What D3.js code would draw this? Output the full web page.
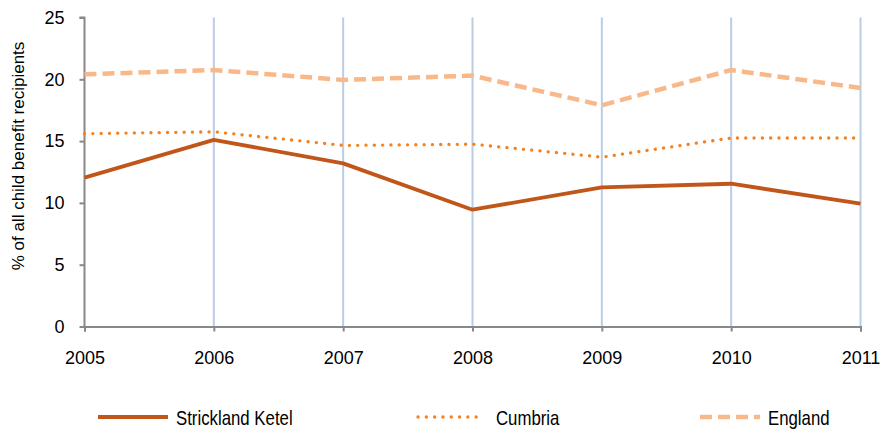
<!DOCTYPE html>
<html><head><meta charset="utf-8">
<script src="https://cdn.jsdelivr.net/npm/d3@7"></script>
<style>body{margin:0;background:#fff}svg{display:block;font-family:"Liberation Sans",Arial,sans-serif}</style>
</head><body><svg id="c" width="885" height="429"></svg>
<script>
const years = ["2005","2006","2007","2008","2009","2010","2011"];
const strickland = [12.05, 15.1, 13.2, 9.45, 11.25, 11.55, 9.95];
const cumbria = [15.6, 15.75, 14.65, 14.75, 13.7, 15.25, 15.25];
const england = [20.4, 20.75, 19.95, 20.3, 17.9, 20.75, 19.3];
const yTicks = [0, 5, 10, 15, 20, 25];
const seriesNames = ["Strickland Ketel", "Cumbria", "England"];

const svg = d3.select("#c");
const x = d3.scalePoint().domain(years).range([84.5, 860.5]);
const y = d3.scaleLinear().domain([0, 25]).range([326.5, 17.5]);

// vertical gridlines
svg.append("g").selectAll("line").data(years.slice(1)).join("line")
  .attr("x1", d => x(d)).attr("x2", d => x(d))
  .attr("y1", y(25)).attr("y2", y(0))
  .attr("stroke", "#b9cde5").attr("stroke-width", 2);

// axes
const ya = svg.append("g").attr("transform", `translate(${x("2005")},0)`)
  .call(d3.axisLeft(y).tickValues(yTicks).tickSize(5).tickPadding(15));
const xa = svg.append("g").attr("transform", `translate(0,${y(0)})`)
  .call(d3.axisBottom(x).tickSize(5).tickPadding(20));
[ya, xa].forEach(a => {
  a.select(".domain").attr("stroke", "#888").attr("stroke-width", 2);
  a.selectAll(".tick line").attr("stroke", "#888").attr("stroke-width", 2);
  a.selectAll("text").attr("fill", "#000").style("font-size", "18px")
   .style("font-family", '"Liberation Sans",Arial,sans-serif');
});
ya.select(".domain").attr("d", `M-5,${y(25)}H0V${y(0)}`);

svg.append("text").attr("transform", `translate(24,156) rotate(-90)`)
  .attr("text-anchor", "middle").style("font-size", "17px")
  .text("% of all child benefit recipients");

const line = d3.line().x((d, i) => x(years[i])).y(d => y(d));
const styles = [
  {data: strickland, color: "#c0561a", w: 3.8, dash: null, cap: "butt"},
  {data: cumbria, color: "#f58220", w: 3.3, dash: "0.1 8.2", cap: "round"},
  {data: england, color: "#f9b88a", w: 4.5, dash: "12 6", cap: "butt"}
];
styles.forEach(s => {
  svg.append("path").datum(s.data).attr("d", line)
    .attr("fill", "none").attr("stroke", s.color).attr("stroke-width", s.w)
    .attr("stroke-linecap", s.cap).attr("stroke-linejoin", "round")
    .attr("stroke-dasharray", s.dash);
});

// legend
const legX = [98, 418, 700];
const legW = [70, 64, 60];
const lg = svg.append("g");
seriesNames.forEach((n, i) => {
  const s = styles[i];
  lg.append("line").attr("x1", legX[i]).attr("x2", legX[i] + legW[i])
    .attr("y1", 417).attr("y2", 417)
    .attr("stroke", s.color).attr("stroke-width", s.w)
    .attr("stroke-linecap", s.cap).attr("stroke-dasharray", s.dash);
  lg.append("text")
    .attr("transform", `translate(${legX[i] + legW[i] + (i === 1 ? 14 : 8)},425) scale(0.84,1)`)
    .style("font-size", "20px").text(n);
});
</script></body></html>
